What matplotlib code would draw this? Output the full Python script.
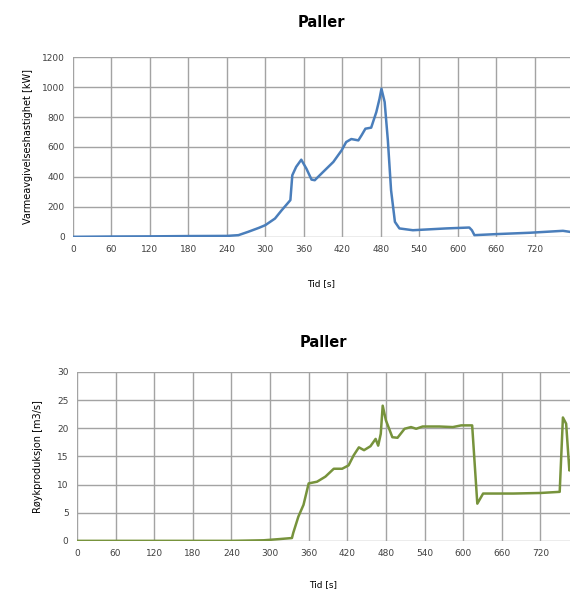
import matplotlib.pyplot as plt
import numpy as np

# Varmeavgivelseshastighet (HRR), tid [s] og kW
tid_hrr = [0, 60, 120, 180, 240, 258, 273, 290, 300, 315, 325, 335, 339, 342, 348, 356,
           364, 372, 377, 390, 406, 419, 426, 434, 445, 450, 456, 465, 473, 478, 481,
           486, 491, 496, 502, 509, 530, 582, 618, 622, 626, 660, 712, 764, 775]
hrr = [0, 2, 3, 5, 6, 11, 33, 60, 78, 122, 175, 225, 245, 411, 467, 515,
       455, 382, 378, 433, 500, 578, 633, 653, 644, 678, 722, 729, 833, 922, 989,
       900, 644, 311, 100, 56, 44, 56, 62, 44, 11, 18, 27, 40, 33]

# Røykproduksjon, tid [s] og m3/s
tid_roek = [0, 60, 120, 180, 240, 290, 313, 334, 336, 344, 352, 360, 373, 386, 399,
            412, 422, 430, 438, 446, 456, 464, 468, 472, 475, 480, 490, 498, 509,
            519, 527, 537, 563, 584, 597, 614, 622, 631, 678, 720, 750, 755, 760,
            765, 767]
roek = [0, 0, 0, 0, 0, 0.1, 0.3, 0.5, 1.4, 4.3, 6.4, 10.2, 10.5, 11.4, 12.8,
        12.8, 13.4, 15.2, 16.6, 16.1, 16.8, 18.1, 16.9, 19.0, 24.0, 21.4, 18.4, 18.3, 19.9,
        20.2, 19.9, 20.3, 20.3, 20.2, 20.5, 20.5, 6.6, 8.4, 8.4, 8.5, 8.7, 21.9, 20.8,
        12.5, 14.3]

xticks = np.arange(0, 721, 60)

fig = plt.figure(figsize=(5.7, 5.95), dpi=100)
ax1 = fig.add_axes([0.128, 0.602, 0.872, 0.302])
ax2 = fig.add_axes([0.135, 0.091, 0.865, 0.284])


def style(ax, xmax, ymax, ystep):
    ax.set_xlim(0, xmax)
    ax.set_ylim(0, ymax)
    ax.set_xticks(xticks)
    ax.set_yticks(np.arange(0, ymax + 0.1, ystep))
    ax.grid(True, color='#a3a3a3', lw=1.0)
    ax.set_axisbelow(True)
    for s in ax.spines.values():
        s.set_visible(False)
    ax.tick_params(length=0, labelsize=6.5, colors='#404040', pad=6)


ax1.plot(tid_hrr, hrr, color='#4a7ebb', lw=1.8)
style(ax1, 775, 1200, 200)
ax1.set_title('Paller', fontsize=10.5, fontweight='bold', pad=22)
ax1.set_xlabel('Tid [s]', fontsize=6.5, labelpad=18)
ax1.set_ylabel('Varmeavgivelseshastighet [kW]', fontsize=7, labelpad=6)

ax2.plot(tid_roek, roek, color='#77933c', lw=1.8)
style(ax2, 766, 30, 5)
ax2.set_title('Paller', fontsize=10.5, fontweight='bold', pad=18)
ax2.set_xlabel('Tid [s]', fontsize=6.5, labelpad=16)
ax2.set_ylabel('Røykproduksjon [m3/s]', fontsize=7, labelpad=10)

fig.savefig('out.png', dpi=100)
